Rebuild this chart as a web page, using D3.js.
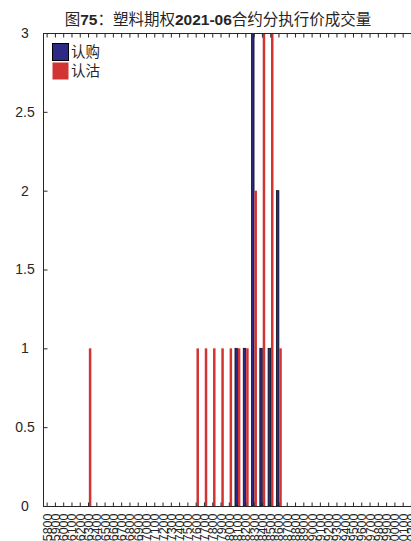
<!DOCTYPE html>
<html><head><meta charset="utf-8">
<script src="https://cdn.jsdelivr.net/npm/d3@7"></script>
<style>
body{margin:0;background:#fff;}
svg{display:block;}
text{font-family:"Liberation Sans","Noto Sans CJK SC",sans-serif;}
</style></head>
<body><svg id="c" width="411" height="541"></svg>
<script>
const strikes = ["5800","5900","6000","6100","6200","6300","6400","6500","6600","6700",
  "6800","6900","7000","7100","7200","7300","7400","7500","7600","7700",
  "7800","7900","8000","8100","8200","8300","8400","8500","8600","8700",
  "8800","8900","9000","9100","9200","9300","9400","9500","9600","9700",
  "9800","9900","10000","10100","10200"];
const calls = [0,0,0,0,0,0,0,0,0,0, 0,0,0,0,0,0,0,0,0,0, 0,0,0,1,1,3,1,1,2,0, 0,0,0,0,0,0,0,0,0,0, 0,0,0,0,0];
const puts  = [0,0,0,0,0,1,0,0,0,0, 0,0,0,0,0,0,0,0,1,1, 1,1,1,1,1,2,3,3,1,0, 0,0,0,0,0,0,0,0,0,0, 0,0,0,0,0];
const yTicks = [0,0.5,1,1.5,2,2.5,3];
const seriesNames = ["认购","认沽"];
const seriesColors = ["#2c2a86","#d23434"];

const svg = d3.select("#c");
const L = 43, T = 33, B = 506, step = 8.28;
const R = L + step*strikes.length;

const x = d3.scaleBand().domain(strikes).range([L, R]).padding(0);
const y = d3.scaleLinear().domain([0,3]).range([B, T]);

svg.append("defs").append("clipPath").attr("id","pc")
  .append("rect").attr("x",L).attr("y",T).attr("width",R-L).attr("height",B-T);

const bw = 2.5;
const g = svg.append("g").attr("clip-path","url(#pc)");
const data = strikes.map((s,i)=>({s, c:calls[i], p:puts[i]}));
g.selectAll("rect.call").data(data.filter(d=>d.c>0)).join("rect")
  .attr("x", d=>x(d.s)+x.bandwidth()/2-bw-0.1).attr("width",bw)
  .attr("y", d=>y(d.c)).attr("height", d=>B-y(d.c))
  .attr("fill",seriesColors[0]).attr("stroke","#0a0a1a").attr("stroke-width",0.8);
g.selectAll("rect.put").data(data.filter(d=>d.p>0)).join("rect")
  .attr("x", d=>x(d.s)+x.bandwidth()/2+0.3).attr("width",bw)
  .attr("y", d=>y(d.p)).attr("height", d=>B-y(d.p))
  .attr("fill",seriesColors[1]);

// axes
const ax = svg.append("g").attr("stroke","#262626").attr("stroke-width",1).attr("fill","none");
ax.append("line").attr("x1",L).attr("x2",R).attr("y1",B+0.5).attr("y2",B+0.5);
ax.append("line").attr("x1",L).attr("x2",R).attr("y1",T+0.5).attr("y2",T+0.5);
ax.append("line").attr("x1",L+0.5).attr("x2",L+0.5).attr("y1",T).attr("y2",B);

const bottomAx = svg.append("g").attr("transform",`translate(0,${B+0.5})`)
  .call(d3.axisBottom(x).tickSizeInner(-4).tickSizeOuter(0).tickPadding(5));
bottomAx.select(".domain").remove();
bottomAx.selectAll(".tick line").attr("stroke","#262626");
bottomAx.selectAll(".tick text")
  .attr("transform","rotate(-90)").attr("text-anchor","end")
  .attr("x",-7).attr("y",0).attr("dy","0.36em")
  .attr("font-size",12.5).attr("fill","#262626");

const topAx = svg.append("g").attr("transform",`translate(0,${T+0.5})`)
  .call(d3.axisTop(x).tickSizeInner(-4).tickSizeOuter(0).tickFormat(""));
topAx.select(".domain").remove();
topAx.selectAll(".tick line").attr("stroke","#262626");

const leftAx = svg.append("g").attr("transform",`translate(${L+0.5},0)`)
  .call(d3.axisLeft(y).tickValues(yTicks).tickSizeInner(-4).tickSizeOuter(0).tickPadding(6)
    .tickFormat(d3.format("")));
leftAx.select(".domain").remove();
leftAx.selectAll(".tick line").attr("stroke","#262626");
leftAx.selectAll(".tick text").attr("font-size",14).attr("fill","#262626")
  .attr("text-anchor","middle").attr("x",-(L+0.5-25));

// title
const title = svg.append("text").attr("x",218).attr("y",25).attr("text-anchor","middle")
  .attr("font-size",15.5).attr("fill","#262626");
title.append("tspan").text("图");
title.append("tspan").attr("font-weight","bold").text("75");
title.append("tspan").text("：塑料期权");
title.append("tspan").attr("font-weight","bold").text("2021-06");
title.append("tspan").text("合约分执行价成交量");

// legend
const lg = svg.append("g");
seriesNames.forEach((n,i)=>{
  lg.append("rect").attr("x",52.5).attr("y",43.5+i*19).attr("width",16).attr("height",17)
    .attr("fill",seriesColors[i]).attr("stroke", i===0?"#000":"none").attr("stroke-width",1);
  lg.append("text").attr("x",71).attr("y",57+i*19).attr("font-size",14.5)
    .attr("fill","#262626").text(n);
});
</script></body></html>
